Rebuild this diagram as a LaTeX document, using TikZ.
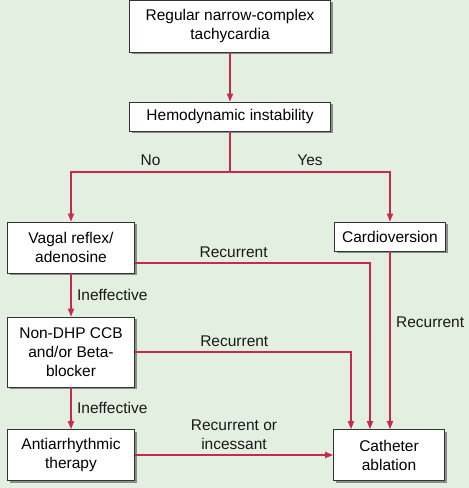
\documentclass[tikz,border=0pt]{standalone}
\usepackage{fontspec}
\setmainfont{Liberation Sans}
\usetikzlibrary{arrows.meta,shadows}
\definecolor{bgGreen}{HTML}{E3EFE0}
\definecolor{arrRed}{HTML}{C9284F}
\tikzset{
    box/.style = {draw=black!80, fill=white, line width=0.7pt, align=center,
                  inner sep=2pt, font=\fontsize{15.5}{19}\selectfont,
                  drop shadow={shadow xshift=2pt, shadow yshift=-2pt, fill=black!45, opacity=1}},
    link/.style = {draw=arrRed, line width=1.5pt},
    arr/.style = {link, -{Triangle[width=6pt,length=8pt]}},
    lbl/.style = {font=\fontsize{15.5}{19}\selectfont, text=black!90}
}

\begin{document}
\begin{tikzpicture}[x=1pt, y=-1pt]
                \fill[bgGreen] (0,0) rectangle (469,488);
                \useasboundingbox (0,0) rectangle (469,488);
                \node[box, minimum width=201pt, minimum height=52pt] (reg) at (230,26) {Regular narrow-complex\\tachycardia};
                \node[box, minimum width=201pt, minimum height=29pt] (hemo) at (230,116.5) {Hemodynamic instability};
                \node[box, minimum width=127pt, minimum height=51pt] (vagal) at (71,247.5) {Vagal reflex/\\adenosine};
                \node[box, minimum width=111pt, minimum height=29pt] (cardio) at (390,236.5) {Cardioversion};
                \node[box, minimum width=127pt, minimum height=70pt] (nondhp) at (71,352) {Non-DHP CCB\\and/or Beta-\\blocker};
                \node[box, minimum width=127pt, minimum height=51pt] (anti) at (71,455) {Antiarrhythmic\\therapy};
                \node[box, minimum width=111pt, minimum height=51pt] (cath) at (389,455) {Catheter\\ablation};
                \coordinate (split) at (230,172);
                \coordinate (v out) at ([yshift=-15.5pt]vagal.east);
                % top of the tree
                \draw[arr] (reg) -- (hemo);
                \draw[link] (hemo) -- (split);
                \draw[arr] (split) -| node[lbl, pos=0.25, above=2pt] {No} (vagal);
                \draw[arr] (split) -| node[lbl, pos=0.25, above=2pt] {Yes} (cardio);
                % left column
                \draw[arr] (vagal) -- node[lbl, right=2pt] {Ineffective} (nondhp);
                \draw[arr] (nondhp) -- node[lbl, right=2pt] {Ineffective} (anti);
                % to ablation
                \draw[arr] (v out) -| node[lbl, pos=0.21, above=1pt] {Recurrent} ([xshift=-19pt]cath.north);
                \draw[arr] (nondhp) -| node[lbl, pos=0.23, above=1pt] {Recurrent} ([xshift=-38pt]cath.north);
                \draw[arr] (cardio) -- node[lbl, pos=0.4, right=2pt] {Recurrent} (cardio |- cath.north);
                \draw[arr] (anti) -- node[lbl, above=1pt, align=center] {Recurrent or\\incessant} (cath);
            \end{tikzpicture}
\end{document}
